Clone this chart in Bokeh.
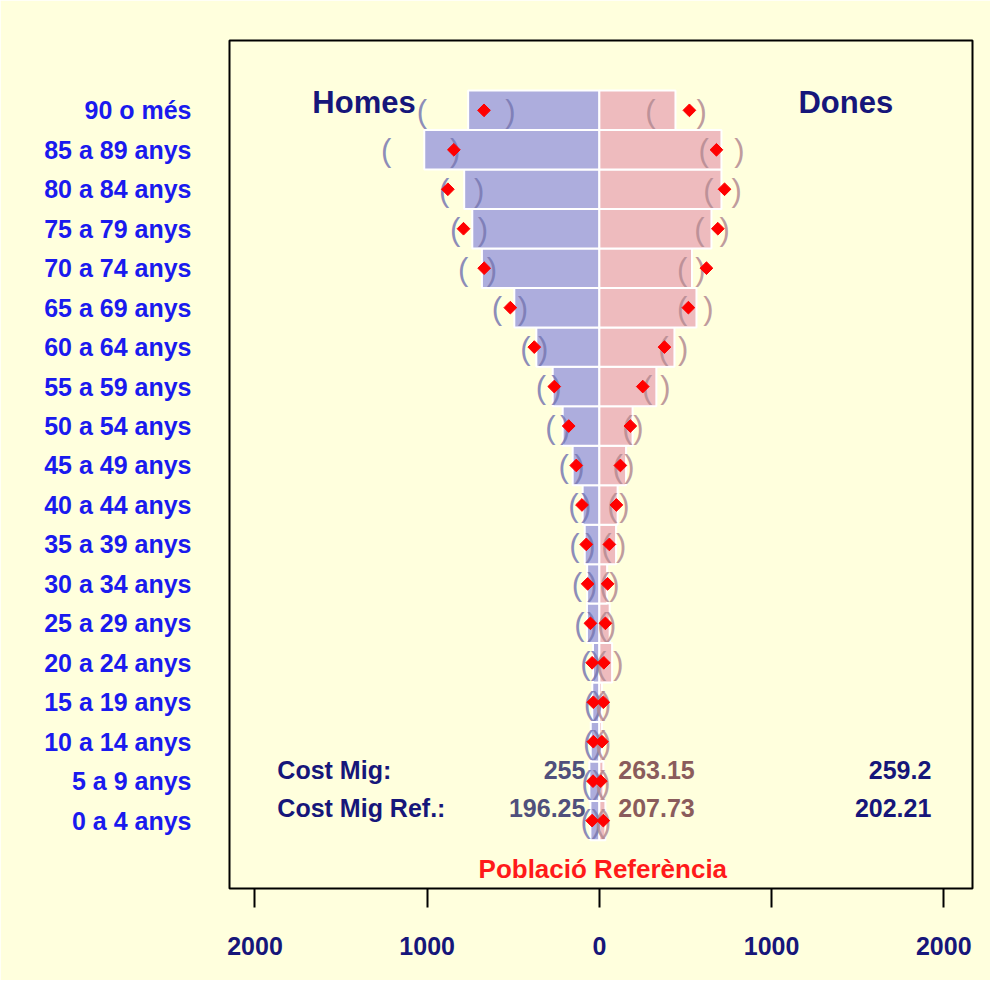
import numpy as np
from bokeh.plotting import figure
from bokeh.models import ColumnDataSource, FixedTicker, Range1d, Label
from bokeh.core.properties import value
from bokeh.embed import file_html
from bokeh.resources import INLINE

# ---------------- data (bottom row first) ----------------
age_labels = ["0 a 4 anys", "5 a 9 anys", "10 a 14 anys", "15 a 19 anys",
              "20 a 24 anys", "25 a 29 anys", "30 a 34 anys", "35 a 39 anys",
              "40 a 44 anys", "45 a 49 anys", "50 a 54 anys", "55 a 59 anys",
              "60 a 64 anys", "65 a 69 anys", "70 a 74 anys", "75 a 79 anys",
              "80 a 84 anys", "85 a 89 anys", "90 o més"]
homes = [52, 58, 50, 41, 37, 72, 71, 85, 97, 155, 213, 271, 366, 494, 682, 738, 785, 1017, 762]
dones = [35, 23, 15, 15, 74, 60, 45, 97, 106, 155, 193, 331, 436, 564, 538, 651, 709, 709, 442]
homes_ref = [42, 37, 35, 35, 42, 52, 68, 76, 101, 134, 178, 262, 378, 517, 669, 789, 880, 845, 670]
dones_ref = [23, 8, 15, 23, 26, 35, 48, 58, 99, 122, 180, 252, 378, 517, 622, 688, 727, 680, 523]
homes_ci_lo = [15, 10, 10, 10, 20, 42, 42, 52, 76, 116, 198, 250, 327, 444, 624, 677, 698, 837, 517]
homes_ci_hi = [80, 75, 65, 60, 81, 116, 130, 145, 151, 208, 285, 339, 430, 595, 791, 837, 901, 1238, 1031]
dones_ci_lo = [5, 5, 5, 5, 10, 17, 29, 41, 76, 106, 163, 277, 372, 481, 481, 581, 634, 605, 297]
dones_ci_hi = [40, 35, 40, 40, 110, 68, 87, 126, 145, 174, 227, 384, 487, 634, 587, 727, 797, 814, 594]

summary_labels = ["Cost Mig:", "Cost Mig Ref.:"]
homes_cost = [255, 196.25]
dones_cost = [263.15, 207.73]
total_cost = [259.2, 202.21]

x_ticks = [-2000, -1000, 0, 1000, 2000]
x_tick_labels = ["2000", "1000", "0", "1000", "2000"]

# ---------------- styles ----------------
BG = "#FFFFDD"
NAVY = "#16167A"
LABEL_BLUE = "#1A1AEE"
FONT = "Liberation Sans"

idx = np.arange(len(age_labels))
h = np.array(homes, dtype=float)
d = np.array(dones, dtype=float)

p = figure(width=990, height=980,
           x_range=Range1d(-2148, 2167), y_range=Range1d(-1.72, 19.77),
           output_backend="svg", toolbar_location=None,
           min_border_left=229, min_border_right=18,
           min_border_top=40, min_border_bottom=92,
           background_fill_color=BG, border_fill_color=BG,
           outline_line_color="black", outline_line_width=2)
p.grid.visible = False

# x axis
xa = p.xaxis[0]
xa.ticker = FixedTicker(ticks=x_ticks)
xa.major_label_overrides = {t: l for t, l in zip(x_ticks, x_tick_labels)}
xa.axis_line_color = None
xa.major_tick_out = 19
xa.major_tick_in = 0
xa.major_tick_line_color = "black"
xa.major_tick_line_width = 2
xa.minor_tick_line_color = None
xa.major_label_standoff = 29
xa.major_label_text_font = FONT
xa.major_label_text_font_style = "bold"
xa.major_label_text_font_size = "25px"
xa.major_label_text_color = NAVY

# y axis
ya = p.yaxis[0]
ya.ticker = FixedTicker(ticks=list(range(len(age_labels))))
ya.major_label_overrides = {int(i): l for i, l in zip(idx, age_labels)}
ya.axis_line_color = None
ya.major_tick_line_color = None
ya.minor_tick_line_color = None
ya.major_tick_out = 0
ya.major_tick_in = 0
ya.major_label_standoff = 38
ya.major_label_text_font = FONT
ya.major_label_text_font_style = "bold"
ya.major_label_text_font_size = "25px"
ya.major_label_text_color = LABEL_BLUE

# bars
src = ColumnDataSource(dict(
    y=idx, hl=-h, dr=d,
    href=-np.array(homes_ref, float), dref=np.array(dones_ref, float),
    hlo=-np.array(homes_ci_hi, float), hhi=-np.array(homes_ci_lo, float),
    dlo=np.array(dones_ci_lo, float), dhi=np.array(dones_ci_hi, float),
    op=["("] * len(idx), cp=[")"] * len(idx)))

p.hbar(y="y", left="hl", right=0, height=1, source=src,
       fill_color="#ADADDD", line_color="white", line_width=2)
p.hbar(y="y", left=0, right="dr", height=1, source=src,
       fill_color="#EEBBBE", line_color="white", line_width=2)

# summary texts
sy = [1.29, 0.32]
ssrc = ColumnDataSource(dict(
    y=sy, lab=summary_labels,
    hc=[f"{v:g}" for v in homes_cost],
    dc=[f"{v:g}" for v in dones_cost],
    tc=[f"{v:g}" for v in total_cost]))
common = dict(text_font=value(FONT), text_font_style="bold",
              text_font_size="25px", text_baseline="middle", source=ssrc)
p.text(x=-1870, y="y", text="lab", text_align="left", text_color=NAVY, **common)
p.text(x=-81, y="y", text="hc", text_align="right", text_color="#50507C", **common)
p.text(x=110, y="y", text="dc", text_align="left", text_color="#8A5C5C", **common)
p.text(x=1928, y="y", text="tc", text_align="right", text_color=NAVY, **common)

# confidence-interval parentheses
pcommon = dict(text_font=value(FONT), text_font_size="31px",
               text_align="center", text_baseline="middle", source=src,
               text_alpha=0.85, y_offset=1)
p.text(x="hlo", y="y", text="op", text_color="#7878B2", **pcommon)
p.text(x="hhi", y="y", text="cp", text_color="#7878B2", **pcommon)
p.text(x="dlo", y="y", text="op", text_color="#B48A92", **pcommon)
p.text(x="dhi", y="y", text="cp", text_color="#B48A92", **pcommon)

# reference points
p.scatter(x="href", y="y", source=src, marker="square", angle=np.pi / 4,
          size=9, fill_color="red", line_color="red")
p.scatter(x="dref", y="y", source=src, marker="square", angle=np.pi / 4,
          size=9, fill_color="red", line_color="red")

# labels
p.add_layout(Label(x=-1667, y=18.2, text="Homes", text_font=FONT,
                   text_font_style="bold", text_font_size="31px",
                   text_color=NAVY, text_align="left", text_baseline="middle"))
p.add_layout(Label(x=1156, y=18.2, text="Dones", text_font=FONT,
                   text_font_style="bold", text_font_size="31px",
                   text_color=NAVY, text_align="left", text_baseline="middle"))
p.add_layout(Label(x=20, y=-1.22, text="Població Referència", text_font=FONT,
                   text_font_style="bold", text_font_size="26px",
                   text_color="#FF1A1A", text_align="center",
                   text_baseline="middle"))

open("out.html", "w").write(file_html(p, INLINE))
